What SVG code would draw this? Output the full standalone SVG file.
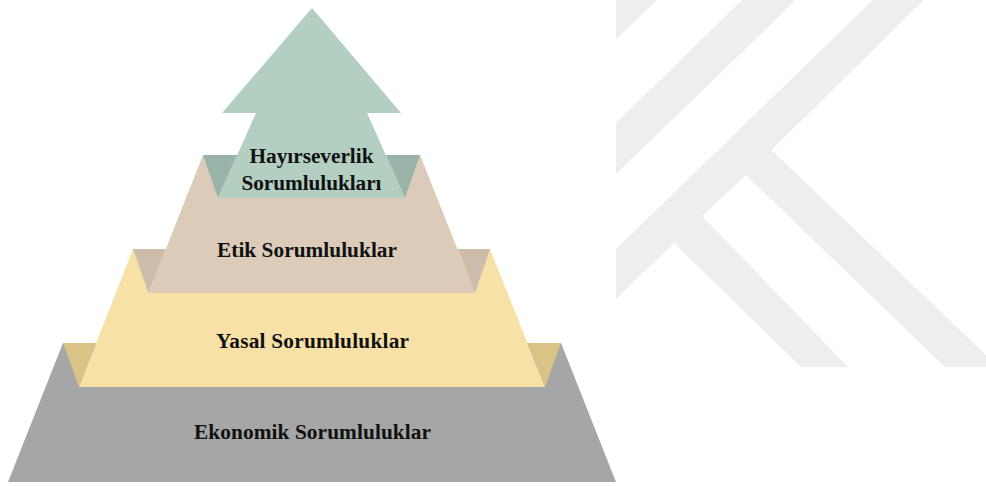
<svg xmlns="http://www.w3.org/2000/svg" width="986" height="486" viewBox="0 0 986 486">
<style>
.w{fill:#eeeeee}
text{font-family:"Liberation Serif","Times New Roman",serif;font-weight:bold;font-size:21.3px;fill:#111;text-anchor:middle}
</style>
<rect width="986" height="486" fill="#ffffff"/>
<g id="watermark">
<polygon class="w" points="616,0 657,0 616,39"/>
<polygon class="w" points="616,123 742,0 796,0 616,174"/>
<polygon class="w" points="616,249 873,0 924,0 771.5,150 986,355 986,367 945,367 746,175 702,216 848,367 801,367 674,243 616,299"/>
</g>
<g id="level-ekonomik">
<polygon fill="#a6a6a6" points="63,343 561,343 616,482 8,482"/>
<polygon fill="#d9c487" points="63,343 96,343 79,387"/>
<polygon fill="#d9c487" points="528,343 561,343 545,387"/>
<text x="312.500" y="439" textLength="237" lengthAdjust="spacing">Ekonomik Sorumluluklar</text>
</g>
<g id="level-yasal">
<polygon fill="#f7e1a6" points="133,249 490,249 545,387 79,387"/>
<polygon fill="#cebcaa" points="133,249 166,249 148.500,293"/>
<polygon fill="#cebcaa" points="458,249 490,249 475,293"/>
<text x="312.500" y="348" textLength="193" lengthAdjust="spacing">Yasal Sorumluluklar</text>
</g>
<g id="level-etik">
<polygon fill="#dccbb9" points="203,155 420,155 475,293 148.500,293"/>
<polygon fill="#98b4a8" points="203,155 237,155 218,198"/>
<polygon fill="#98b4a8" points="386,155 420,155 405,198"/>
<text x="307" y="257" textLength="180" lengthAdjust="spacing">Etik Sorumluluklar</text>
</g>
<g id="level-hayirseverlik">
<polygon fill="#b2cfc2" points="312,8 401,113 367,113 405,198 218,198 256,113 222,113"/>
<text x="311.500" y="162.500" textLength="124" lengthAdjust="spacing">Hayırseverlik</text>
<text x="311.500" y="190" textLength="140" lengthAdjust="spacing">Sorumlulukları</text>
</g>
</svg>
